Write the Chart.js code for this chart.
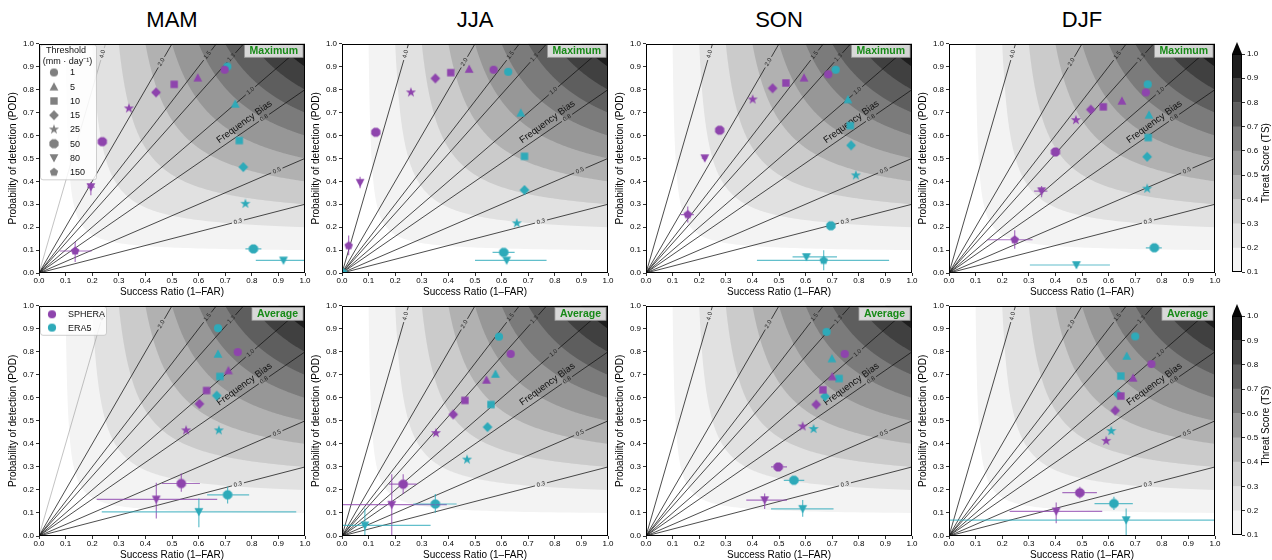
<!DOCTYPE html>
<html>
<head>
<meta charset="utf-8">
<script src="https://cdn.jsdelivr.net/npm/chart.js@4.4.0/dist/chart.umd.min.js"></script>
<style>
  body { margin: 0; width: 1272px; height: 560px; overflow: hidden; background: #fff; position: relative; font-family: 'Liberation Sans', Arial, sans-serif; }
  canvas { position: absolute; }
  .season { position: absolute; top: 6px; width: 266px; text-align: center; font-size: 22px; line-height: 28px; color: #000; }
</style>
</head>
<body>
<script>
// ---- data ----
const seasons = ['MAM', 'JJA', 'SON', 'DJF'];
const thresholds = [1, 5, 10, 15, 25, 50, 80, 150];
const products = ['SPHERA', 'ERA5'];
const statNames = ['Maximum', 'Average'];

// one row per season, one column per threshold; null = not plotted
const spheraMaxSR = [
  [0.698, 0.597, 0.508, 0.440, 0.338, 0.238, 0.195, 0.136],
  [0.570, 0.478, 0.409, 0.351, 0.259, 0.127, 0.068, 0.025],
  [0.685, 0.594, 0.526, 0.476, 0.401, 0.277, 0.221, 0.157],
  [0.740, 0.650, 0.580, 0.533, 0.477, 0.400, 0.348, 0.247]
];
const spheraMaxPOD = [
  [0.887, 0.852, 0.823, 0.788, 0.718, 0.573, 0.375, 0.096],
  [0.887, 0.890, 0.874, 0.849, 0.788, 0.614, 0.394, 0.119],
  [0.867, 0.852, 0.829, 0.806, 0.757, 0.623, 0.501, 0.255],
  [0.788, 0.751, 0.725, 0.713, 0.667, 0.528, 0.357, 0.145]
];
const era5MaxSR = [
  [0.708, 0.738, 0.753, 0.768, 0.776, 0.806, 0.919, null],
  [0.625, 0.672, 0.686, 0.686, 0.657, 0.608, 0.619, 0.005],
  [0.713, 0.759, 0.768, 0.771, 0.789, 0.695, 0.603, 0.668],
  [0.747, 0.752, 0.749, 0.745, 0.745, 0.772, 0.479, null]
];
const era5MaxPOD = [
  [0.901, 0.738, 0.578, 0.462, 0.302, 0.105, 0.055, null],
  [0.878, 0.699, 0.509, 0.362, 0.217, 0.090, 0.055, 0.002],
  [0.887, 0.757, 0.643, 0.557, 0.426, 0.206, 0.070, 0.055],
  [0.823, 0.690, 0.591, 0.507, 0.368, 0.110, 0.035, null]
];
const spheraAvgSR = [
  [0.747, 0.712, 0.630, 0.603, 0.553, 0.535, 0.441, null],
  [0.634, 0.543, 0.462, 0.418, 0.353, 0.230, 0.187, null],
  [0.747, 0.700, 0.665, 0.640, 0.589, 0.497, 0.446, null],
  [0.761, 0.692, 0.646, 0.625, 0.591, 0.492, 0.403, null]
];
const spheraAvgPOD = [
  [0.799, 0.719, 0.632, 0.574, 0.459, 0.228, 0.159, null],
  [0.791, 0.678, 0.589, 0.528, 0.447, 0.225, 0.136, null],
  [0.791, 0.693, 0.635, 0.571, 0.476, 0.300, 0.156, null],
  [0.747, 0.687, 0.608, 0.545, 0.413, 0.188, 0.107, null]
];
const era5AvgSR = [
  [0.673, 0.673, 0.680, 0.668, 0.676, 0.709, 0.601, null],
  [0.590, 0.577, 0.560, 0.547, 0.470, 0.351, 0.086, null],
  [0.679, 0.699, 0.726, 0.673, 0.630, 0.556, 0.589, null],
  [0.700, 0.668, 0.646, 0.635, 0.610, 0.620, 0.666, null]
];
const era5AvgPOD = [
  [0.903, 0.791, 0.693, 0.610, 0.459, 0.179, 0.105, null],
  [0.866, 0.704, 0.571, 0.473, 0.332, 0.139, 0.046, null],
  [0.887, 0.771, 0.684, 0.606, 0.465, 0.242, 0.118, null],
  [0.867, 0.782, 0.695, 0.615, 0.456, 0.141, 0.069, null]
];

// error bars: [threshold index, SR low, SR high, POD low, POD high]
const spheraMaxErr = [
  [[6, 0.181, 0.210, 0.339, 0.397], [7, 0.078, 0.198, 0.048, 0.135]],
  [[6, 0.060, 0.076, 0.370, 0.420], [7, 0.018, 0.032, 0.077, 0.164]],
  [[6, 0.210, 0.230, 0.490, 0.510], [7, 0.130, 0.180, 0.220, 0.290]],
  [[6, 0.320, 0.370, 0.330, 0.380], [7, 0.144, 0.314, 0.106, 0.186]]
];
const era5MaxErr = [
  [[5, 0.776, 0.836, 0.095, 0.115], [6, 0.815, 1.000, 0.050, 0.060]],
  [[5, 0.566, 0.649, 0.080, 0.100], [6, 0.500, 0.769, 0.045, 0.065]],
  [[5, 0.680, 0.710, 0.195, 0.215], [6, 0.551, 0.718, 0.060, 0.080], [7, 0.417, 0.914, 0.012, 0.099]],
  [[5, 0.740, 0.800, 0.100, 0.120], [6, 0.304, 0.605, 0.030, 0.040]]
];
const spheraAvgErr = [
  [[5, 0.462, 0.605, 0.192, 0.271], [6, 0.217, 0.670, 0.076, 0.231]],
  [[5, 0.177, 0.281, 0.182, 0.268], [6, 0.000, 0.394, 0.000, 0.268]],
  [[5, 0.470, 0.530, 0.285, 0.315], [6, 0.377, 0.530, 0.117, 0.185]],
  [[5, 0.426, 0.556, 0.163, 0.214], [6, 0.228, 0.576, 0.055, 0.146]]
];
const era5AvgErr = [
  [[5, 0.632, 0.790, 0.141, 0.214], [6, 0.236, 0.967, 0.038, 0.163]],
  [[5, 0.268, 0.431, 0.101, 0.182], [6, 0.000, 0.333, 0.000, 0.120]],
  [[5, 0.518, 0.595, 0.225, 0.260], [6, 0.470, 0.705, 0.084, 0.156]],
  [[5, 0.547, 0.691, 0.113, 0.170], [6, 0.000, 1.000, 0.000, 0.120]]
];

const tsLevels = [0.1, 0.2, 0.3, 0.4, 0.5, 0.6, 0.7, 0.8, 0.9, 1.0];
const biasLevels = [0.3, 0.5, 0.8, 1.0, 1.3, 1.5, 2.0, 4.0];

// ---- styling ----
const FONT = "'Liberation Sans', Arial, Helvetica, sans-serif";
const tsColors = ['#f3f3f3', '#e1e1e1', '#cbcbcb', '#b1b1b1', '#979797', '#7b7b7b', '#5e5e5e', '#404040', '#1e1e1e'];
const tsExtendColor = '#050505';
const biasLabelFrac = [0.748, 0.894, 0.846, 0.795, 0.94, 0.95, 0.92, 0.955];
const productColors = ['#8e44ad', '#2eaab9'];
const legendGrey = '#808080';

const colLeft = [39, 342, 646, 949];
const rowTop = [43, 305];
const rowH = [230, 231];
const plotW = 266;

// ---- marker sprites ----
function polyPath(g, n, r, rot) {
  for (let i = 0; i < n; i++) {
    const a = rot + i * 2 * Math.PI / n;
    const px = r * Math.cos(a), py = r * Math.sin(a);
    if (i === 0) g.moveTo(px, py); else g.lineTo(px, py);
  }
  g.closePath();
}

function makeSprite(shape, color) {
  const s = 14;
  const c = document.createElement('canvas');
  c.width = s; c.height = s;
  const g = c.getContext('2d');
  g.translate(s / 2, s / 2);
  g.fillStyle = color;
  g.beginPath();
  if (shape === 0) g.arc(0, 0, 4.1, 0, Math.PI * 2);
  else if (shape === 1) { g.moveTo(0, -4.4); g.lineTo(4.4, 3.8); g.lineTo(-4.4, 3.8); g.closePath(); }
  else if (shape === 2) g.rect(-3.7, -3.7, 7.4, 7.4);
  else if (shape === 3) { g.moveTo(0, -4.9); g.lineTo(4.9, 0); g.lineTo(0, 4.9); g.lineTo(-4.9, 0); g.closePath(); }
  else if (shape === 4) {
    for (let i = 0; i < 10; i++) {
      const r = i % 2 ? 2.1 : 5.3;
      const a = -Math.PI / 2 + i * Math.PI / 5;
      if (i === 0) g.moveTo(r * Math.cos(a), r * Math.sin(a)); else g.lineTo(r * Math.cos(a), r * Math.sin(a));
    }
    g.closePath();
  }
  else if (shape === 5) polyPath(g, 8, 5.0, Math.PI / 8);
  else if (shape === 6) { g.moveTo(0, 4.4); g.lineTo(4.4, -3.8); g.lineTo(-4.4, -3.8); g.closePath(); }
  else polyPath(g, 5, 4.4, -Math.PI / 2);
  g.fill();
  return c;
}

const sprites = productColors.map(col => thresholds.map((t, k) => makeSprite(k, col)));
const legendSprites = thresholds.map((t, k) => makeSprite(k, legendGrey));
const productDots = productColors.map(col => makeSprite(0, col));

const srSets = [[spheraMaxSR, era5MaxSR], [spheraAvgSR, era5AvgSR]];
const podSets = [[spheraMaxPOD, era5MaxPOD], [spheraAvgPOD, era5AvgPOD]];
const errSets = [[spheraMaxErr, era5MaxErr], [spheraAvgErr, era5AvgErr]];

// ---- performance diagram background, error bars, legends ----
const perfPlugin = {
  id: 'perf',
  beforeDatasetsDraw(chart, args, opts) {
    const { ctx, chartArea: a, scales: { x, y } } = chart;
    ctx.save();
    ctx.beginPath();
    ctx.rect(a.left, a.top, a.width, a.height);
    ctx.clip();
    ctx.fillStyle = '#fff';
    ctx.fillRect(a.left, a.top, a.width, a.height);

    // threat score bands: 1/SR + 1/POD = 1/TS + 1
    tsLevels.forEach((lvl, i) => {
      const span = 1 / lvl - 1;
      ctx.beginPath();
      const n = 160;
      for (let k = 0; k <= n; k++) {
        const t = k / n;
        const sr = 1 / (1 + span * t);
        const pod = 1 / (1 + span * (1 - t));
        const px = x.getPixelForValue(sr), py = y.getPixelForValue(pod);
        if (k === 0) ctx.moveTo(px, py); else ctx.lineTo(px, py);
      }
      ctx.lineTo(x.getPixelForValue(1), y.getPixelForValue(1));
      ctx.closePath();
      ctx.fillStyle = i < tsColors.length ? tsColors[i] : tsExtendColor;
      ctx.fill();
    });

    // frequency bias lines with labels
    const ox = x.getPixelForValue(0), oy = y.getPixelForValue(0);
    ctx.font = '6px ' + FONT;
    biasLevels.forEach((b, i) => {
      const ex = x.getPixelForValue(Math.min(1, 1 / b));
      const ey = y.getPixelForValue(Math.min(1, b));
      const f = biasLabelFrac[i];
      const lx = ox + (ex - ox) * f, ly = oy + (ey - oy) * f;
      const len = Math.hypot(ex - ox, ey - oy);
      const ux = (ex - ox) / len, uy = (ey - oy) / len;
      const txt = b.toFixed(1);
      const g = ctx.measureText(txt).width / 2 + 2;
      const faint = opts.col === 0 && b === 4.0;
      ctx.strokeStyle = faint ? '#9a9a9a' : '#111';
      ctx.lineWidth = faint ? 0.6 : 0.75;
      ctx.beginPath();
      ctx.moveTo(ox, oy);
      ctx.lineTo(lx - ux * g, ly - uy * g);
      ctx.moveTo(lx + ux * g, ly + uy * g);
      ctx.lineTo(ex, ey);
      ctx.stroke();
      ctx.save();
      ctx.translate(lx, ly);
      ctx.rotate(Math.atan2(uy, ux));
      ctx.fillStyle = '#222';
      ctx.textAlign = 'center';
      ctx.textBaseline = 'middle';
      ctx.fillText(txt, 0, 0);
      ctx.restore();
    });

    ctx.save();
    ctx.translate(x.getPixelForValue(0.772), y.getPixelForValue(0.659));
    ctx.rotate(-36 * Math.PI / 180);
    ctx.font = '9.5px ' + FONT;
    ctx.fillStyle = '#111';
    ctx.textAlign = 'center';
    ctx.textBaseline = 'middle';
    ctx.fillText('Frequency Bias', 0, 0);
    ctx.restore();
    ctx.restore();
  },
  afterDatasetsDraw(chart, args, opts) {
    const { ctx, chartArea: a, scales: { x, y } } = chart;
    const r = opts.row, c = opts.col;
    ctx.save();
    ctx.beginPath();
    ctx.rect(a.left, a.top, a.width, a.height);
    ctx.clip();
    ctx.globalAlpha = 0.75;
    ctx.lineWidth = 1.2;
    products.forEach((p, pi) => {
      const srs = srSets[r][pi][c], pods = podSets[r][pi][c];
      ctx.strokeStyle = productColors[pi];
      errSets[r][pi][c].forEach(([k, sLo, sHi, pLo, pHi]) => {
        const px = x.getPixelForValue(srs[k]), py = y.getPixelForValue(pods[k]);
        ctx.beginPath();
        ctx.moveTo(x.getPixelForValue(sLo), py);
        ctx.lineTo(x.getPixelForValue(sHi), py);
        ctx.moveTo(px, y.getPixelForValue(pLo));
        ctx.lineTo(px, y.getPixelForValue(pHi));
        ctx.stroke();
      });
    });
    ctx.globalAlpha = 1;

    // statistic tag in the top right corner
    const tag = statNames[r];
    ctx.font = 'bold 10.5px ' + FONT;
    const tw = ctx.measureText(tag).width;
    const bx = a.right - tw - 12, by = a.top + (r === 0 ? 0.5 : 1.5), bh = 13;
    ctx.fillStyle = 'rgba(228,228,228,0.92)';
    ctx.strokeStyle = '#9a9a9a';
    ctx.lineWidth = 0.8;
    ctx.fillRect(bx, by, tw + 10, bh);
    ctx.strokeRect(bx, by, tw + 10, bh);
    ctx.fillStyle = '#178a17';
    ctx.textAlign = 'center';
    ctx.textBaseline = 'middle';
    ctx.fillText(tag, bx + (tw + 10) / 2, by + bh / 2 + 0.5);

    // legends in the first column
    if (c === 0) {
      ctx.fillStyle = 'rgba(255,255,255,0.82)';
      ctx.strokeStyle = 'rgba(190,190,190,0.9)';
      ctx.lineWidth = 0.8;
      ctx.font = '9px ' + FONT;
      if (r === 0) {
        ctx.beginPath();
        ctx.roundRect(a.left + 1.5, a.top + 1, 56, 135, 2.5);
        ctx.fill(); ctx.stroke();
        ctx.fillStyle = '#111';
        ctx.textAlign = 'center';
        ctx.fillText('Threshold', a.left + 27, a.top + 6.5);
        ctx.fillText('(mm \u00b7 day\u207b\u00b9)', a.left + 28.5, a.top + 18);
        ctx.textAlign = 'left';
        thresholds.forEach((t, k) => {
          const yy = a.top + 28.7 + k * 14.25;
          const s = legendSprites[k];
          ctx.drawImage(s, a.left + 15 - s.width / 2, yy - s.height / 2);
          ctx.fillStyle = '#111';
          ctx.fillText(String(t), a.left + 31, yy + 0.5);
        });
      } else {
        ctx.beginPath();
        ctx.roundRect(a.left + 1.5, a.top + 0.5, 66, 29, 2.5);
        ctx.fill(); ctx.stroke();
        ctx.textAlign = 'left';
        products.forEach((p, pi) => {
          const yy = a.top + 8.5 + pi * 13.3;
          const s = productDots[pi];
          ctx.drawImage(s, a.left + 13 - s.width / 2, yy - s.height / 2);
          ctx.fillStyle = '#111';
          ctx.fillText(p, a.left + 29, yy + 0.5);
        });
      }
    }
    ctx.restore();
  },
  afterDraw(chart) {
    const { ctx, chartArea: a } = chart;
    ctx.save();
    ctx.strokeStyle = '#000';
    ctx.lineWidth = 1;
    ctx.strokeRect(Math.round(a.left) + 0.5, Math.round(a.top) + 0.5, Math.round(a.width) - 1, Math.round(a.height) - 1);
    ctx.restore();
  }
};

function addCanvas(left, top, w, h) {
  const cv = document.createElement('canvas');
  cv.width = w; cv.height = h;
  cv.style.left = left + 'px';
  cv.style.top = top + 'px';
  cv.style.width = w + 'px';
  cv.style.height = h + 'px';
  document.body.appendChild(cv);
  return cv;
}

function tickOpts() {
  return { stepSize: 0.1, autoSkip: false, maxRotation: 0, color: '#000', font: { family: FONT, size: 8 }, callback: v => Number(v).toFixed(1) };
}

seasons.forEach((s, c) => {
  const d = document.createElement('div');
  d.className = 'season';
  d.style.left = colLeft[c] + 'px';
  d.textContent = s;
  document.body.appendChild(d);
});

[0, 1].forEach(r => {
  seasons.forEach((season, c) => {
    const cv = addCanvas(colLeft[c] - 34, rowTop[r] - 6, 34 + plotW + 10, 6 + rowH[r] + 26);
    const datasets = products.map((p, pi) => {
      const srs = srSets[r][pi][c], pods = podSets[r][pi][c];
      const pts = [], styles = [];
      srs.forEach((sr, k) => {
        if (sr === null) return;
        pts.push({ x: sr, y: pods[k] });
        styles.push(sprites[pi][k]);
      });
      return { label: p, data: pts, pointStyle: styles, pointRadius: 4.5, pointHoverRadius: 4.5, backgroundColor: productColors[pi] };
    });
    new Chart(cv, {
      type: 'scatter',
      data: { datasets },
      options: {
        responsive: false, animation: false, devicePixelRatio: 1,
        layout: { padding: { top: 6, right: 10, bottom: 0, left: 0 } },
        plugins: { legend: { display: false }, tooltip: { enabled: false }, perf: { row: r, col: c } },
        scales: {
          x: {
            type: 'linear', min: 0, max: 1,
            afterFit(sc) { sc.height = 26; },
            ticks: Object.assign(tickOpts(), { padding: 0 }),
            grid: { drawOnChartArea: false, tickLength: 3, color: '#000', lineWidth: 0.8 },
            border: { display: false },
            title: { display: true, text: 'Success Ratio (1\u2013FAR)', color: '#000', font: { family: FONT, size: 10 }, padding: { top: 0, bottom: 1 } }
          },
          y: {
            type: 'linear', min: 0, max: 1,
            afterFit(sc) { sc.width = 34; },
            ticks: Object.assign(tickOpts(), { padding: 2 }),
            grid: { drawOnChartArea: false, tickLength: 3, color: '#000', lineWidth: 0.8 },
            border: { display: false },
            title: { display: true, text: 'Probability of detection (POD)', color: '#000', font: { family: FONT, size: 10 }, padding: { top: 2, bottom: 0 } }
          }
        }
      },
      plugins: [perfPlugin]
    });
  });

  // colour bar
  const cbTop = r === 0 ? 54 : 316;
  const cbBottom = r === 0 ? 273 : 536;
  const cv = addCanvas(1232, cbTop - 14, 40, 14 + (cbBottom - cbTop) + 6);
  const bands = tsColors.map((col, i) => ({
    data: [[tsLevels[i], tsLevels[i + 1]]],
    backgroundColor: col, borderWidth: 0, grouped: false, barPercentage: 1, categoryPercentage: 1
  }));
  new Chart(cv, {
    type: 'bar',
    data: { labels: ['TS'], datasets: bands },
    options: {
      responsive: false, animation: false, devicePixelRatio: 1,
      layout: { padding: { top: 14, right: 0, bottom: 6, left: 0 } },
      plugins: { legend: { display: false }, tooltip: { enabled: false } },
      scales: {
        x: { display: false },
        y: {
          position: 'right', min: tsLevels[0], max: tsLevels[tsLevels.length - 1],
          afterFit(sc) { sc.width = 30; },
          ticks: Object.assign(tickOpts(), { padding: 2 }),
          grid: { drawOnChartArea: false, tickLength: 3, color: '#000', lineWidth: 0.8 },
          border: { display: false }
        }
      }
    },
    plugins: [{
      id: 'cbar',
      afterDraw(chart) {
        const { ctx, chartArea: a } = chart;
        ctx.save();
        ctx.fillStyle = tsExtendColor;
        ctx.beginPath();
        ctx.moveTo(a.left, a.top);
        ctx.lineTo(a.right, a.top);
        ctx.lineTo((a.left + a.right) / 2, a.top - 12);
        ctx.closePath();
        ctx.fill();
        ctx.strokeStyle = '#000';
        ctx.lineWidth = 1;
        ctx.strokeRect(Math.round(a.left) + 0.5, Math.round(a.top) + 0.5, Math.round(a.width) - 1, Math.round(a.height) - 1);
        ctx.translate(34, (a.top + a.bottom) / 2);
        ctx.rotate(-Math.PI / 2);
        ctx.font = '10px ' + FONT;
        ctx.fillStyle = '#000';
        ctx.textAlign = 'center';
        ctx.textBaseline = 'middle';
        ctx.fillText('Threat Score (TS)', 0, 0);
        ctx.restore();
      }
    }]
  });
});
</script>
</body>
</html>
